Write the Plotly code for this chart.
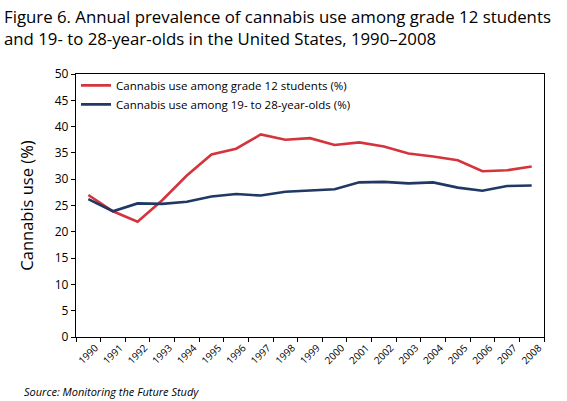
import plotly.graph_objects as go

years = [str(y) for y in range(1990, 2009)]
grade12 = [27.0, 23.9, 21.9, 26.0, 30.7, 34.7, 35.8, 38.5, 37.5, 37.8, 36.5, 37.0, 36.2, 34.9, 34.3, 33.6, 31.5, 31.7, 32.4]
young_adults = [26.2, 23.9, 25.4, 25.3, 25.7, 26.7, 27.2, 26.9, 27.6, 27.8, 28.1, 29.4, 29.5, 29.2, 29.4, 28.4, 27.8, 28.7, 28.8]
y_ticks = list(range(0, 55, 5))

FONT = "Open Sans"

fig = go.Figure()
fig.add_trace(go.Scatter(x=years, y=grade12, mode="lines", name="Cannabis use among grade 12 students (%)",
                         line=dict(color="#d4343c", width=2.6)))
fig.add_trace(go.Scatter(x=years, y=young_adults, mode="lines", name="Cannabis use among 19- to 28-year-olds (%)",
                         line=dict(color="#1f3864", width=2.6)))

fig.update_layout(
    width=567, height=401,
    margin=dict(l=76, r=23, t=74, b=64),
    paper_bgcolor="white", plot_bgcolor="white",
    font=dict(family=FONT, color="black"),
    showlegend=True,
    legend=dict(x=0.0, y=1.012, xanchor="left", yanchor="top", bgcolor="rgba(0,0,0,0)",
                font=dict(size=11.5, family=FONT), tracegroupgap=0, itemwidth=30),
    annotations=[
        dict(text="Figure 6. Annual prevalence of cannabis use among grade 12 students<br>and 19- to 28-year-olds in the United States, 1990–2008",
             xref="paper", yref="paper", x=-0.158, y=1.27, xanchor="left", yanchor="top",
             showarrow=False, align="left", font=dict(size=16.8, family=FONT)),
        dict(text="<i>Source: Monitoring the Future Study</i>", xref="paper", yref="paper",
             x=-0.115, y=-0.208, xanchor="left", yanchor="middle", showarrow=False,
             font=dict(size=11, family=FONT)),
    ],
)
fig.update_xaxes(type="category", range=[-0.5, len(years) - 0.5], tickson="boundaries",
                 ticks="outside", ticklen=4, tickcolor="black",
                 showline=True, linecolor="black", linewidth=1.3, mirror=True, showgrid=False,
                 tickangle=-45, tickfont=dict(size=10, family=FONT), ticklabelshift=7,
                 automargin=False)
fig.update_yaxes(range=[0, 50], tickvals=y_ticks, ticks="outside", ticklen=4, tickcolor="black",
                 showline=True, linecolor="black", linewidth=1.3, mirror=True, showgrid=False,
                 tickfont=dict(size=12, family=FONT), zeroline=False, automargin=False,
                 title=dict(text="Cannabis use (%)", font=dict(size=16.5, family=FONT), standoff=16))

fig.write_html("out.html", config={"displayModeBar": False},
               post_script="document.body.style.margin='0';document.body.style.overflow='hidden';")
